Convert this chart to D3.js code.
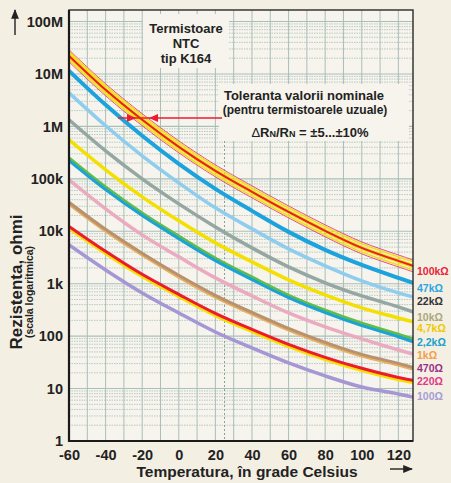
<!DOCTYPE html>
<html>
<head>
<meta charset="utf-8">
<script src="https://cdn.jsdelivr.net/npm/d3@7.9.0/dist/d3.min.js"></script>
<style>
  body { margin: 0; background: #f4efe3; }
  svg { display: block; font-family: "Liberation Sans", Arial, sans-serif; font-weight: bold; }
</style>
</head>
<body>
<svg id="chart" width="451" height="483"></svg>
<script>
const temps = [-60, -40, -20, 0, 20, 40, 60, 80, 100, 120, 128];

// resistance in ohms, one array per nominal value
const r100k = [2.22e7, 4.99e6, 1.34e6, 4.08e5, 1.42e5, 5.65e4, 2.34e4, 1.02e4, 4.82e3, 2.72e3, 2.19e3];
const r47k  = [1.15e7, 2.58e6, 6.62e5, 1.93e5, 6.44e4, 2.45e4, 9.74e3, 4.42e3, 2.28e3, 1.29e3, 1.04e3];
const r22k  = [4.38e6, 1.03e6, 2.75e5, 8.39e4, 2.80e4, 1.11e4, 4.61e3, 2.19e3, 1.13e3, 667, 560];
const r10k  = [1.34e6, 3.42e5, 1.00e5, 3.33e4, 1.21e4, 4.82e3, 2.09e3, 1.04e3, 585, 361, 290];
const r4k7  = [5.55e5, 1.49e5, 4.53e4, 1.58e4, 6.01e3, 2.61e3, 1.18e3, 611, 345, 222, 187];
const r2k2  = [2.31e5, 6.44e4, 2.06e4, 7.48e3, 2.85e3, 1.24e3, 560, 290, 164, 101, 81];
const r1k   = [9.57e4, 2.68e4, 8.54e3, 3.25e3, 1.29e3, 585, 277, 150, 88.5, 54.5, 45.7];
const r470  = [3.48e4, 1.06e4, 3.71e3, 1.41e3, 585, 277, 137, 74.1, 43.8, 29.5, 24.7];
const r220  = [1.21e4, 4.05e3, 1.47e3, 611, 265, 131, 67.9, 38.4, 23.7, 15.9, 14.0];
const r100  = [5.50e3, 1.83e3, 667, 277, 120, 59.6, 30.8, 17.4, 10.7, 7.9, 6.9];

// tolerance lines drawn around the 100k curve (inner yellow, outer pink)
const bandInner = [1.2, 1 / 1.2];
const bandOuter = [1.3, 1 / 1.3];

const xTicks = [-60, -40, -20, 0, 20, 40, 60, 80, 100, 120];
const yTicks = [1, 10, 100, 1e3, 1e4, 1e5, 1e6, 1e7, 1e8];
const yTickLabels = ["1", "10", "100", "1k", "10k", "100k", "1M", "10M", "100M"];

const curveNames = ["100Ω", "220Ω", "470Ω", "1kΩ", "2,2kΩ", "4,7kΩ", "10kΩ", "22kΩ", "47kΩ", "100kΩ"];
const curveValues = [r100, r220, r470, r1k, r2k2, r4k7, r10k, r22k, r47k, r100k];

// styling
const lineColors  = ["#a597d4", "#ec1c2e", "#b8916e", "#eaaabf", "#1ba2d6", "#f3df00", "#94a7a2", "#8fcdee", "#1ca3de", "#e81c2e"];
const underColors = [null, "#f5e000", "#e6b060", null, "#62bd48", null, null, null, null, "#f5e000"];
const labelColors = ["#a79cd8", "#e23a8a", "#9b2f88", "#f2a048", "#1ba0cc", "#f0c800", "#aaa77a", "#333333", "#2aa6e0", "#e8253a"];
const labelShift  = [-1, 0, 0, 1, 1, 6, 5, 4, 5, 5];

const svg = d3.select("#chart");
const W = 451, H = 483;
const plotL = 69, plotR = 413, plotT = 10, plotB = 441;

const x = d3.scaleLinear().domain([-60, 128]).range([plotL, plotR]);
const y = d3.scaleLog().domain([1, 1.66e8]).range([plotB, plotT]);

const gridColor = "#a9bfba";

svg.append("rect").attr("width", W).attr("height", H).attr("fill", "#f4efe3");
svg.append("rect")
  .attr("x", plotL).attr("y", plotT)
  .attr("width", plotR - plotL).attr("height", plotB - plotT)
  .attr("fill", "#f6f4ec");

svg.append("clipPath").attr("id", "plot-clip")
  .append("rect")
  .attr("x", plotL).attr("y", plotT)
  .attr("width", plotR - plotL).attr("height", plotB - plotT);

const grid = svg.append("g").attr("clip-path", "url(#plot-clip)");

// minor log lines
const minor = [];
yTicks.forEach(d => {
  for (let m = 2; m <= 9; m++) {
    if (d * m < y.domain()[1]) minor.push(d * m);
  }
});
grid.selectAll(".minor").data(minor).join("line")
  .attr("x1", plotL).attr("x2", plotR)
  .attr("y1", d => y(d)).attr("y2", d => y(d))
  .attr("stroke", gridColor).attr("stroke-width", 0.8)
  .attr("stroke-dasharray", "1.5,1");

grid.selectAll(".major").data(yTicks).join("line")
  .attr("x1", plotL).attr("x2", plotR)
  .attr("y1", d => y(d)).attr("y2", d => y(d))
  .attr("stroke", gridColor).attr("stroke-width", 1.1);

grid.selectAll(".vert").data(d3.range(-50, 128, 10)).join("line")
  .attr("x1", d => x(d)).attr("x2", d => x(d))
  .attr("y1", plotT).attr("y2", plotB)
  .attr("stroke", gridColor).attr("stroke-width", 1);

// 25 °C reference, below the note
grid.append("line")
  .attr("x1", x(25)).attr("x2", x(25))
  .attr("y1", 141).attr("y2", plotB)
  .attr("stroke", "#8aa09b").attr("stroke-width", 1)
  .attr("stroke-dasharray", "2,2");

// text boxes clear the grid
svg.append("rect").attr("x", 143).attr("y", 14).attr("width", 86).attr("height", 54).attr("fill", "#f6f4ec");
svg.append("rect").attr("x", 219).attr("y", 84).attr("width", 190).attr("height", 57).attr("fill", "#f6f4ec");

const line = d3.line()
  .x((d, i) => x(temps[i]))
  .y(d => y(d))
  .curve(d3.curveMonotoneX);

const curves = svg.append("g").attr("clip-path", "url(#plot-clip)").attr("fill", "none").attr("stroke-linecap", "round");

curveValues.forEach((vals, k) => {
  const isTop = k === curveValues.length - 1;
  if (isTop) {
    bandOuter.forEach(f => {
      curves.append("path")
        .attr("d", line(vals.map(v => v * f)))
        .attr("stroke", "#e2407a").attr("stroke-width", 0.9);
    });
    bandInner.forEach(f => {
      curves.append("path")
        .attr("d", line(vals.map(v => v * f)))
        .attr("stroke", "#f3dc20").attr("stroke-width", 1.6);
    });
    curves.append("path")
      .attr("d", line(vals))
      .attr("stroke", "#f5e000").attr("stroke-width", 4.2);
    curves.append("path")
      .attr("d", line(vals))
      .attr("stroke", lineColors[k]).attr("stroke-width", 2);
    return;
  }
  if (underColors[k]) {
    const w = k === 2 ? 3 : 4;
    curves.append("path")
      .attr("d", line(vals))
      .attr("transform", k === 4 ? "translate(0,-1.2)" : "translate(0,1.2)")
      .attr("stroke", underColors[k]).attr("stroke-width", w);
    curves.append("path")
      .attr("d", line(vals))
      .attr("transform", k === 4 ? "translate(0,0.8)" : "translate(0,-0.6)")
      .attr("stroke", lineColors[k]).attr("stroke-width", 3);
  } else {
    curves.append("path")
      .attr("d", line(vals))
      .attr("stroke", lineColors[k]).attr("stroke-width", k === 8 ? 4 : 3.5);
  }
});

// frame
svg.append("rect")
  .attr("x", plotL).attr("y", plotT)
  .attr("width", plotR - plotL).attr("height", plotB - plotT)
  .attr("fill", "none").attr("stroke", "#2a2a2a").attr("stroke-width", 1.4);
svg.append("path")
  .attr("d", `M${plotL},${plotT}V${plotB}H${plotR}`)
  .attr("fill", "none").attr("stroke", "#1a1a1a").attr("stroke-width", 2.2);

// axes
const yAxis = svg.append("g")
  .attr("transform", `translate(${plotL},0)`)
  .call(d3.axisLeft(y).tickValues(yTicks).tickFormat((d, i) => yTickLabels[i]).tickSize(0).tickPadding(6));
yAxis.select(".domain").remove();
yAxis.selectAll("text")
  .attr("font-family", "'Liberation Sans', Arial, sans-serif")
  .attr("font-weight", "bold").attr("font-size", 14.5).attr("fill", "#222");

const xAxis = svg.append("g")
  .attr("transform", `translate(0,${plotB})`)
  .call(d3.axisBottom(x).tickValues(xTicks).tickFormat(d => String(d)).tickSize(0).tickPadding(9));
xAxis.select(".domain").remove();
xAxis.selectAll("text")
  .attr("font-family", "'Liberation Sans', Arial, sans-serif")
  .attr("font-weight", "bold").attr("font-size", 14.5).attr("fill", "#222");

// right-hand labels
svg.append("g").selectAll("text").data(curveNames).join("text")
  .attr("x", 417)
  .attr("y", (d, i) => y(curveValues[i][curveValues[i].length - 1]) + labelShift[i])
  .attr("dy", "0.36em")
  .attr("font-size", 10.5)
  .attr("fill", (d, i) => labelColors[i])
  .text(d => d);

// axis titles
svg.append("text")
  .attr("transform", "translate(22,282) rotate(-90)")
  .attr("text-anchor", "middle").attr("font-size", 17).attr("fill", "#222")
  .text("Rezistenta, ohmi");
svg.append("text")
  .attr("transform", "translate(33,292) rotate(-90)")
  .attr("text-anchor", "middle").attr("font-size", 10.5).attr("fill", "#222")
  .text("(scala logaritmica)");
svg.append("text")
  .attr("x", 247).attr("y", 477)
  .attr("text-anchor", "middle").attr("font-size", 15.5).attr("fill", "#222")
  .text("Temperatura, în grade Celsius");

// arrows
svg.append("defs").append("marker")
  .attr("id", "head").attr("viewBox", "0 0 10 10")
  .attr("refX", 9).attr("refY", 5)
  .attr("markerWidth", 7).attr("markerHeight", 7)
  .attr("orient", "auto")
  .append("path").attr("d", "M0,1L10,5L0,9Z").attr("fill", "#222");
svg.append("line").attr("x1", 15).attr("y1", 35).attr("x2", 15).attr("y2", 10)
  .attr("stroke", "#222").attr("stroke-width", 1.4).attr("marker-end", "url(#head)");
svg.append("line").attr("x1", 390).attr("y1", 469).attr("x2", 412).attr("y2", 469)
  .attr("stroke", "#222").attr("stroke-width", 1.4).attr("marker-end", "url(#head)");

// title
const title = svg.append("text").attr("text-anchor", "middle").attr("font-size", 13).attr("fill", "#222");
["Termistoare", "NTC", "tip K164"].forEach((t, i) => {
  title.append("tspan").attr("x", 186).attr("y", 33 + i * 15).text(t);
});

// tolerance note
svg.append("text").attr("x", 304).attr("y", 100)
  .attr("text-anchor", "middle").attr("font-size", 13).attr("fill", "#222")
  .text("Toleranta valorii nominale");
svg.append("text").attr("x", 305).attr("y", 114)
  .attr("text-anchor", "middle").attr("font-size", 12).attr("fill", "#222")
  .text("(pentru termistoarele uzuale)");
const tol = svg.append("text").attr("x", 310).attr("y", 137)
  .attr("text-anchor", "middle").attr("font-size", 13).attr("fill", "#222");
tol.append("tspan").attr("font-weight", "normal").text("Δ");
tol.append("tspan").text("R");
tol.append("tspan").attr("font-size", 9).text("N");
tol.append("tspan").text("/R");
tol.append("tspan").attr("font-size", 9).text("N");
tol.append("tspan").text(" = ±5...±10%");

// red pointer to the band
const tolY = 118;
svg.append("line").attr("x1", 118).attr("x2", 222).attr("y1", tolY).attr("y2", tolY)
  .attr("stroke", "#ec1c2e").attr("stroke-width", 1.3);
svg.append("path").attr("d", `M127,${tolY - 4}L136,${tolY}L127,${tolY + 4}Z`).attr("fill", "#ec1c2e");
svg.append("path").attr("d", `M158,${tolY - 4}L149,${tolY}L158,${tolY + 4}Z`).attr("fill", "#ec1c2e");
</script>
</body>
</html>
